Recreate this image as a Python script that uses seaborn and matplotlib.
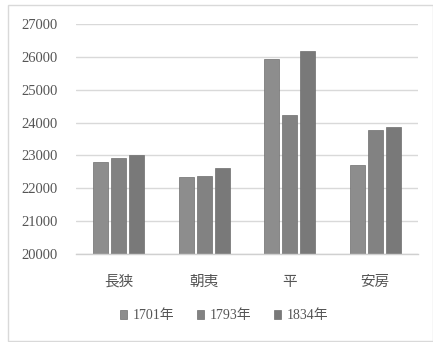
import matplotlib
matplotlib.use("Agg")
import matplotlib.pyplot as plt
import seaborn as sns
import pandas as pd
from matplotlib.patches import Rectangle

# District names and population by survey year
districts = ["長狭", "朝夷", "平", "安房"]
years = ["1701年", "1793年", "1834年"]
pop_1701 = [22810, 22330, 25920, 22700]
pop_1793 = [22930, 22380, 24220, 23770]
pop_1834 = [23000, 22630, 26180, 23850]
y_ticks = [20000, 21000, 22000, 23000, 24000, 25000, 26000, 27000]

rows = []
for year, vals in zip(years, [pop_1701, pop_1793, pop_1834]):
    for d, v in zip(districts, vals):
        rows.append({"district": d, "year": year, "pop": v})
df = pd.DataFrame(rows)

sns.set_theme(style="white")
plt.rcParams["font.family"] = ["Liberation Serif", "Noto Sans CJK JP"]

W, H = 433, 342
fig = plt.figure(figsize=(W / 100, H / 100), dpi=100)
ax = fig.add_axes([76 / W, 1 - 254 / H, (418 - 76) / W, (254 - 24) / H])

palette = ["#8d8d8d", "#828282", "#797979"]
sns.barplot(data=df, x="district", y="pop", hue="year", hue_order=years,
            order=districts, palette=palette, width=0.63, gap=0.16,
            edgecolor="#6e6e6e", linewidth=0.5, saturation=1,
            ax=ax, legend=False, errorbar=None)

ax.set_ylim(20000, 27000)
ax.set_yticks(y_ticks)
ax.set_yticklabels([str(t) for t in y_ticks], fontsize=10.5, color="#555555")
ax.yaxis.grid(True, color="#d9d9d9", linewidth=1)
ax.set_axisbelow(True)
ax.tick_params(axis="y", length=0, pad=13)
ax.tick_params(axis="x", length=0, pad=15, labelsize=10.5, labelcolor="#555555")
for lbl in ax.get_xticklabels():
    lbl.set_family(["Noto Sans CJK JP", "Liberation Serif"])
ax.set_xlabel("")
ax.set_ylabel("")
for side in ["top", "right", "left"]:
    ax.spines[side].set_visible(False)
ax.spines["bottom"].set_color("#d0d0d0")
ax.spines["bottom"].set_linewidth(1)

handles = [Rectangle((0, 0), 1, 1, facecolor=c, edgecolor="#6e6e6e", linewidth=0.5)
           for c in palette]
leg = fig.legend(handles, years, loc="center", bbox_to_anchor=(224 / W, 1 - 316 / H),
                 ncol=3, frameon=False, fontsize=10, handlelength=0.55,
                 handleheight=0.55, handletextpad=0.4, columnspacing=1.6)
for t in leg.get_texts():
    t.set_color("#555555")
    t.set_family(["Liberation Serif", "Noto Sans CJK JP"])

# Outer chart border
fig.patches.append(Rectangle((8 / W, 1 / H), (W - 8) / W, (H - 6) / H,
                             transform=fig.transFigure, fill=False,
                             edgecolor="#d9d9d9", linewidth=1))

fig.savefig("out.png", dpi=100, facecolor="white")
